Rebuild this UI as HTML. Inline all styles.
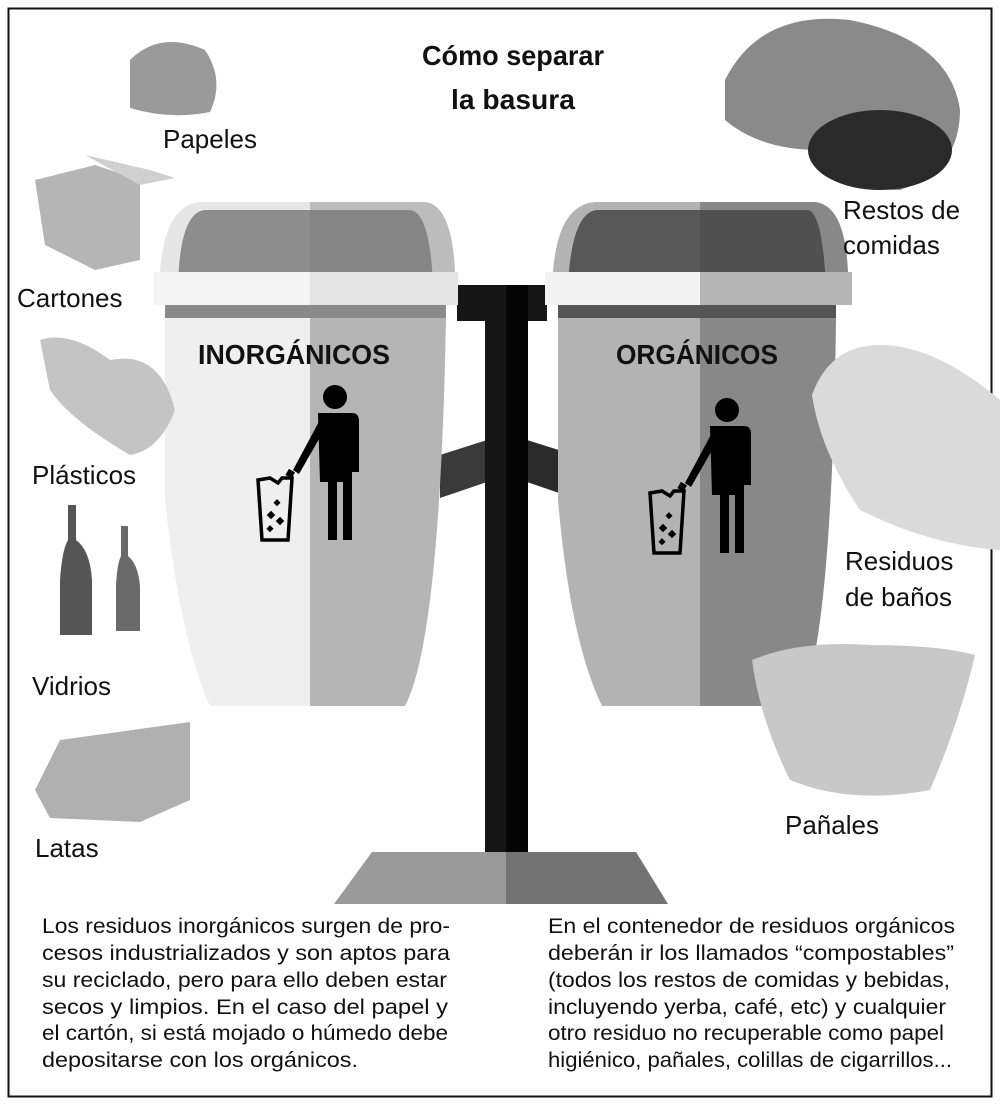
<!DOCTYPE html>
<html><head><meta charset="utf-8"><style>
html,body{margin:0;padding:0;background:#fff}
svg{display:block}
text{font-family:"Liberation Sans",sans-serif;fill:#111}
.l{font-size:26px}
.p{font-size:21px}
.t{font-size:28px;font-weight:bold}
.b{font-size:28px;font-weight:bold}
</style></head><body>
<svg width="1000" height="1109" viewBox="0 0 1000 1109" xmlns="http://www.w3.org/2000/svg">
<rect x="8.5" y="8.5" width="983" height="1088" fill="none" stroke="#111" stroke-width="2"/>
<text class="t" x="513" y="65" text-anchor="middle" textLength="182" lengthAdjust="spacingAndGlyphs">Cómo separar</text>
<text class="t" x="513" y="109" text-anchor="middle" textLength="124" lengthAdjust="spacingAndGlyphs">la basura</text>

<rect x="457" y="285" width="90" height="36" fill="#161616"/>
<polygon points="440,455 487,440 487,482 440,498" fill="#3a3a3a"/>
<polygon points="527,440 565,452 565,495 527,482" fill="#2a2a2a"/>
<rect x="485" y="285" width="21" height="570" fill="#161616"/>
<rect x="506" y="285" width="22" height="570" fill="#050505"/>
<polygon points="372,852 506,852 506,904 334,904" fill="#9a9a9a"/>
<polygon points="506,852 636,852 668,904 506,904" fill="#737373"/>

<path d="M165,318 H310 V706 H210 Q180,640 165,500 Z" fill="#efefef"/>
<path d="M310,318 H446 Q440,640 405,706 H310 Z" fill="#b5b5b5"/>
<rect x="165" y="305" width="281" height="13" fill="#8a8a8a"/>
<path d="M160,272 Q165,205 200,202 H310 V272 Z" fill="#e6e6e6"/>
<path d="M310,202 H425 Q452,205 455,272 H310 Z" fill="#bcbcbc"/>
<path d="M178,285 Q180,212 205,210 H310 V285 Z" fill="#8d8d8d"/>
<path d="M310,210 H410 Q430,212 433,285 H310 Z" fill="#858585"/>
<rect x="154" y="272" width="156" height="33" fill="#f4f4f4"/>
<rect x="310" y="272" width="148" height="33" fill="#e4e4e4"/>
<text class="b" x="294" y="364" text-anchor="middle" textLength="192" lengthAdjust="spacingAndGlyphs">INORGÁNICOS</text>

<path d="M558,318 H700 V706 H602 Q570,640 558,500 Z" fill="#b3b3b3"/>
<path d="M700,318 H836 Q832,640 800,706 H700 Z" fill="#888"/>
<rect x="558" y="305" width="278" height="13" fill="#555"/>
<path d="M553,272 Q558,205 595,202 H700 V272 Z" fill="#b3b3b3"/>
<path d="M700,202 H815 Q845,205 848,272 H700 Z" fill="#888"/>
<path d="M568,285 Q572,212 597,210 H700 V285 Z" fill="#585858"/>
<path d="M700,210 H808 Q822,212 826,285 H700 Z" fill="#505050"/>
<rect x="545" y="272" width="155" height="33" fill="#f2f2f2"/>
<rect x="700" y="272" width="152" height="33" fill="#b5b5b5"/>
<text class="b" x="697" y="364" text-anchor="middle" textLength="162" lengthAdjust="spacingAndGlyphs">ORGÁNICOS</text>

<g id="fig" fill="#000">
<circle cx="335" cy="397" r="12"/>
<path d="M318,413 H352 Q359,413 359,421 V472 H352 V540 H343 V482 H337 V540 H328 V482 H320 Z"/>
<path d="M322,416 L293,470 L299,474 L327,425 Z"/>
<rect x="287" y="470" width="7" height="7" transform="rotate(30 290 473)"/>
<path d="M258,480 L262,540 L288,540 L292,478 L282,478 L278,483 L270,478 Z" fill="none" stroke="#000" stroke-width="3.5"/>
<rect x="275" y="500" width="5" height="5" transform="rotate(45 277 502)"/>
<rect x="268" y="512" width="6" height="6" transform="rotate(45 271 515)"/>
<rect x="277" y="518" width="6" height="6" transform="rotate(45 280 521)"/>
<rect x="268" y="526" width="5" height="5" transform="rotate(45 270 528)"/>
</g>
<use href="#fig" transform="translate(392,13)"/>

<path d="M130,60 Q160,30 205,50 Q225,80 210,112 Q170,120 130,108 Z" fill="#9a9a9a"/>
<polygon points="35,180 95,165 140,180 140,260 95,270 45,245" fill="#b5b5b5"/>
<polygon points="85,155 150,170 175,178 140,185" fill="#d0d0d0"/>
<path d="M40,340 Q70,330 110,360 Q160,350 175,410 Q160,450 130,455 Q70,420 50,390 Z" fill="#c4c4c4"/>
<path d="M68,505 h8 v35 q14,10 16,40 v55 h-32 v-55 q2,-30 8,-40 Z" fill="#555"/>
<path d="M121,526 h7 v30 q10,8 12,30 v45 h-24 v-45 q1,-22 5,-30 Z" fill="#6a6a6a"/>
<path d="M60,740 L190,722 L190,800 L140,822 L50,818 L35,790 Z" fill="#b0b0b0"/>
<path d="M725,80 Q760,10 850,20 Q950,40 960,110 Q960,170 900,190 Q850,190 820,150 Q760,150 725,120 Z" fill="#8a8a8a"/>
<ellipse cx="880" cy="150" rx="72" ry="40" fill="#2a2a2a"/>
<path d="M812,395 Q830,345 880,345 Q935,345 1000,400 V550 Q930,545 860,510 Q820,450 812,395 Z" fill="#dadada"/>
<path d="M752,660 Q800,640 870,645 Q940,645 975,655 Q960,720 930,790 Q850,805 790,780 Q760,720 752,660 Z" fill="#c8c8c8"/>

<text class="l" x="163" y="148">Papeles</text>
<text class="l" x="17" y="307">Cartones</text>
<text class="l" x="32" y="484">Plásticos</text>
<text class="l" x="32" y="695">Vidrios</text>
<text class="l" x="35" y="857">Latas</text>
<text class="l" x="843" y="219">Restos de</text>
<text class="l" x="843" y="254">comidas</text>
<text class="l" x="845" y="570">Residuos</text>
<text class="l" x="845" y="606">de baños</text>
<text class="l" x="785" y="834">Pañales</text>

<text class="p" x="42" y="933" textLength="408" lengthAdjust="spacingAndGlyphs">Los residuos inorgánicos surgen de pro-</text>
<text class="p" x="42" y="960" textLength="408" lengthAdjust="spacingAndGlyphs">cesos industrializados y son aptos para</text>
<text class="p" x="42" y="987" textLength="405" lengthAdjust="spacingAndGlyphs">su reciclado, pero para ello deben estar</text>
<text class="p" x="42" y="1014" textLength="406" lengthAdjust="spacingAndGlyphs">secos y limpios. En el caso del papel y</text>
<text class="p" x="42" y="1040" textLength="406" lengthAdjust="spacingAndGlyphs">el cartón, si está mojado o húmedo debe</text>
<text class="p" x="42" y="1067" textLength="316" lengthAdjust="spacingAndGlyphs">depositarse con los orgánicos.</text>
<text class="p" x="548" y="933" textLength="407" lengthAdjust="spacingAndGlyphs">En el contenedor de residuos orgánicos</text>
<text class="p" x="548" y="960" textLength="406" lengthAdjust="spacingAndGlyphs">deberán ir los llamados “compostables”</text>
<text class="p" x="548" y="987" textLength="402" lengthAdjust="spacingAndGlyphs">(todos los restos de comidas y bebidas,</text>
<text class="p" x="548" y="1014" textLength="398" lengthAdjust="spacingAndGlyphs">incluyendo yerba, café, etc) y cualquier</text>
<text class="p" x="548" y="1040" textLength="396" lengthAdjust="spacingAndGlyphs">otro residuo no recuperable como papel</text>
<text class="p" x="548" y="1067" textLength="404" lengthAdjust="spacingAndGlyphs">higiénico, pañales, colillas de cigarrillos...</text>
</svg>
</body></html>
